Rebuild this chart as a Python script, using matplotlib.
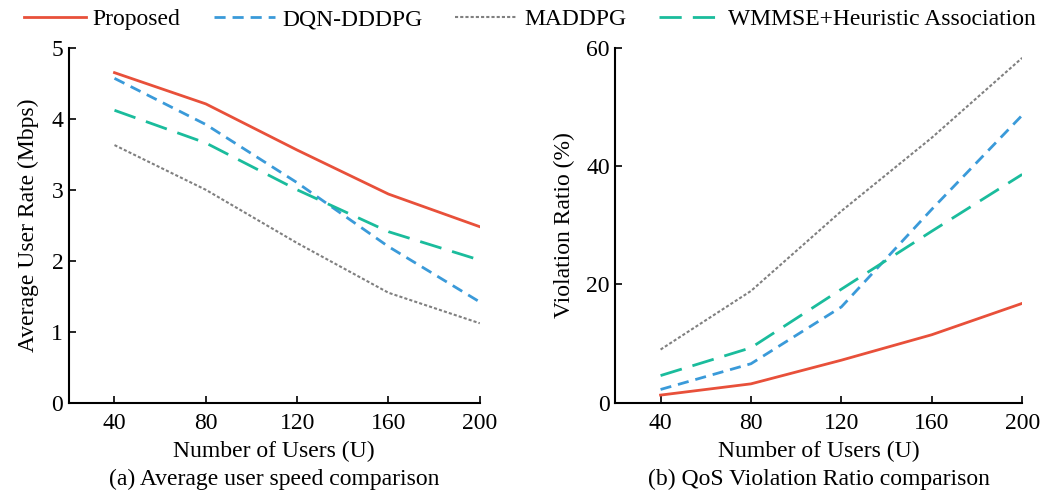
import numpy as np
import matplotlib.pyplot as plt

plt.rcParams['font.family'] = ['Liberation Serif', 'DejaVu Serif']
plt.rcParams['font.size'] = 17

users = np.array([40, 80, 120, 160, 200])

rate_proposed = np.array([4.65, 4.21, 3.56, 2.94, 2.48])
rate_dqn = np.array([4.57, 3.92, 3.10, 2.20, 1.42])
rate_maddpg = np.array([3.63, 3.00, 2.25, 1.55, 1.12])
rate_wmmse = np.array([4.12, 3.66, 3.00, 2.41, 2.01])

viol_proposed = np.array([1.3, 3.2, 7.2, 11.5, 16.8])
viol_dqn = np.array([2.25, 6.6, 16.2, 32.7, 48.6])
viol_maddpg = np.array([9.0, 18.9, 32.4, 44.8, 58.3])
viol_wmmse = np.array([4.6, 9.3, 19.2, 29.0, 38.6])

names = ['Proposed', 'DQN-DDDPG', 'MADDPG', 'WMMSE+Heuristic Association']
colors = ['#e8503a', '#3a9ad9', '#808080', '#1abc9c']
styles = ['-', (0, (4, 2.5)), (0, (1.5, 1)), (0, (8, 4))]
widths = [2.0, 2.0, 1.5, 2.0]

fig = plt.figure(figsize=(10.43, 4.93), dpi=100)
ax1 = fig.add_axes([0.066, 0.183, 0.394, 0.72])
ax2 = fig.add_axes([0.59, 0.183, 0.39, 0.72])

lines = []
for ax, data in [(ax1, [rate_proposed, rate_dqn, rate_maddpg, rate_wmmse]),
                 (ax2, [viol_proposed, viol_dqn, viol_maddpg, viol_wmmse])]:
    lines = []
    for y, name, c, ls, lw in zip(data, names, colors, styles, widths):
        ln, = ax.plot(users, y, color=c, linestyle=ls, linewidth=lw, label=name)
        lines.append(ln)
    ax.set_xlim(20, 200)
    ax.set_xticks(users)
    ax.spines['top'].set_visible(False)
    ax.spines['right'].set_visible(False)
    ax.spines['left'].set_linewidth(1.5)
    ax.spines['bottom'].set_linewidth(1.5)
    ax.tick_params(direction='in', length=5, width=1.2, pad=4)
    ax.tick_params(axis='x', pad=7)
    ax.set_xlabel('Number of Users (U)', labelpad=5)

ax1.set_ylim(0, 5)
ax1.set_yticks([0, 1, 2, 3, 4, 5])
ax1.set_ylabel('Average User Rate (Mbps)', labelpad=9)
ax2.set_ylim(0, 60)
ax2.set_yticks([0, 20, 40, 60])
ax2.set_ylabel('Violation Ratio (%)', labelpad=8)

for ax, cap in [(ax1, '(a) Average user speed comparison'),
                (ax2, '(b) QoS Violation Ratio comparison')]:
    ax.text(0.5, -0.215, cap, transform=ax.transAxes, ha='center', va='center')

fig.legend(lines, names, loc='upper center', ncol=4, frameon=False,
           bbox_to_anchor=(0.508, 1.025), handlelength=2.6, columnspacing=1.4,
           handletextpad=0.3)

fig.savefig('out.png')
